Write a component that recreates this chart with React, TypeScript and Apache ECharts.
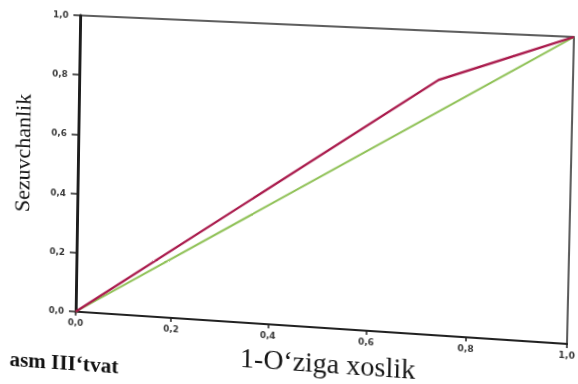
import React, { useEffect, useRef } from "react";
import * as echarts from "echarts";

// ---- data ----
const rocX = [0, 0.735, 1];
const rocY = [0, 0.84, 1];
const refX = [0, 1];
const refY = [0, 1];
const xName = "1-O‘ziga xoslik";
const yName = "Sezuvchanlik";
const caption = "asm III‘tvat";

// plot rectangle in the un-warped chart
const L = 66, T = 15, W = 502, H = 296;
// where the plot corners sit in the (scanned, tilted) reference
const TL = [70.5, 15], TR = [575, 37], BR = [568, 344], BL = [66, 311];

function homography(): string {
  const [x0, y0] = TL, [x1, y1] = TR, [x2, y2] = BR, [x3, y3] = BL;
  const dx1 = x1 - x2, dx2 = x3 - x2, dx3 = x0 - x1 + x2 - x3;
  const dy1 = y1 - y2, dy2 = y3 - y2, dy3 = y0 - y1 + y2 - y3;
  const den = dx1 * dy2 - dx2 * dy1;
  const g = (dx3 * dy2 - dx2 * dy3) / den;
  const h = (dx1 * dy3 - dx3 * dy1) / den;
  const Q = [
    [x1 - x0 + g * x1, x3 - x0 + h * x3, x0],
    [y1 - y0 + g * y1, y3 - y0 + h * y3, y0],
    [g, h, 1],
  ];
  const M = Q.map((r) => [r[0] / W, r[1] / H, -r[0] * L / W - r[1] * T / H + r[2]]);
  const v = [
    M[0][0], M[1][0], 0, M[2][0],
    M[0][1], M[1][1], 0, M[2][1],
    0, 0, 1, 0,
    M[0][2], M[1][2], 0, M[2][2],
  ];
  return `matrix3d(${v.join(",")})`;
}

const fmt = (v: number) => v.toFixed(1).replace(".", ",");

export default function App() {
  const ref = useRef<HTMLDivElement>(null);
  useEffect(() => {
    if (!ref.current) return;
    const chart = echarts.init(ref.current, null, { renderer: "svg" });
    const tickLabel = {
      formatter: (v: number) => fmt(v),
      fontSize: 9,
      fontWeight: "bold" as const,
      color: "#3a3a3a",
      fontFamily: "DejaVu Sans",
    };
    chart.setOption({
      animation: false,
      backgroundColor: "#ffffff",
      grid: {
        left: L, top: T, width: W, height: H,
        show: true, borderColor: "#2b2b2b", borderWidth: 1.5,
        backgroundColor: "transparent",
      },
      xAxis: {
        type: "value", min: 0, max: 1, interval: 0.2,
        axisLine: { show: true, onZero: false, lineStyle: { color: "#222", width: 2 } },
        axisTick: { show: true, length: 4, lineStyle: { color: "#222", width: 1.5 } },
        axisLabel: { ...tickLabel, margin: 6 },
        splitLine: { show: false },
        name: xName, nameLocation: "middle", nameGap: 20,
        nameTextStyle: {
          fontFamily: "Liberation Serif", fontSize: 28, color: "#151515",
          padding: [0, 0, 0, 22],
        },
      },
      yAxis: {
        type: "value", min: 0, max: 1, interval: 0.2,
        axisLine: { show: true, onZero: false, lineStyle: { color: "#1e1e1e", width: 3 } },
        axisTick: { show: true, length: 7, lineStyle: { color: "#222", width: 1.5 } },
        axisLabel: { ...tickLabel, margin: 12 },
        splitLine: { show: false },
        name: yName, nameLocation: "middle", nameGap: 46,
        nameTextStyle: {
          fontFamily: "Liberation Serif", fontSize: 22, color: "#151515",
          padding: [0, 0, 0, 16],
        },
      },
      graphic: [
        {
          type: "text", left: 8, top: 352,
          style: { text: caption, font: "bold 22px 'Liberation Serif'", fill: "#111" },
        },
      ],
      series: [
        {
          type: "line", name: "Reference",
          data: refX.map((x, i) => [x, refY[i]]),
          symbol: "none", lineStyle: { color: "#8fc156", width: 2 },
          z: 2,
        },
        {
          type: "line", name: "ROC",
          data: rocX.map((x, i) => [x, rocY[i]]),
          symbol: "none", lineStyle: { color: "#a9194b", width: 2.2 },
          z: 3,
        },
      ],
    });
    return () => chart.dispose();
  }, []);

  return (
    <div style={{ position: "fixed", left: 0, top: 0, width: 578, height: 384, overflow: "hidden", background: "#fff" }}>
      <div
        ref={ref}
        style={{ width: 578, height: 384, transformOrigin: "0 0", transform: homography() }}
      />
    </div>
  );
}
